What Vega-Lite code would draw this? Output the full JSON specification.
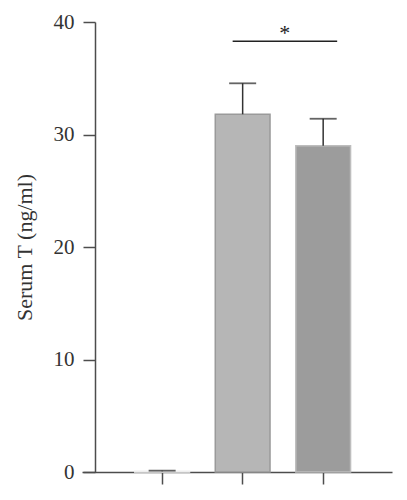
{
  "$schema": "https://vega.github.io/schema/vega-lite/v6.json",
  "autosize": {"type": "none"},
  "width": 310,
  "height": 450,
  "padding": {"left": 82, "top": 22, "right": 15, "bottom": 28},
  "background": "white",
  "config": {
    "view": {"stroke": null},
    "font": "Liberation Serif"
  },
  "data": {
    "values": [
      {"group": "G1", "mean": 0.06, "upper": 0.12},
      {"group": "G2", "mean": 31.8, "upper": 34.55},
      {"group": "G3", "mean": 29.0, "upper": 31.4}
    ]
  },
  "encoding": {
    "x": {
      "field": "group",
      "type": "nominal",
      "sort": null,
      "scale": {"paddingInner": 0.32, "paddingOuter": 0.585, "align": 0.56},
      "axis": {
        "title": null,
        "labels": false,
        "domainColor": "#4d4d4d",
        "domainWidth": 1.5,
        "tickColor": "#4d4d4d",
        "tickWidth": 1.5,
        "tickSize": 12
      }
    }
  },
  "layer": [
    {
      "mark": {"type": "bar", "strokeWidth": 1.5},
      "encoding": {
        "y": {
          "field": "mean",
          "type": "quantitative",
          "scale": {"domain": [0, 40], "nice": false},
          "axis": {
            "title": "Serum T (ng/ml)",
            "titleFont": "Liberation Serif",
            "titleFontSize": 22,
            "titleFontWeight": "normal",
            "titleColor": "#333333",
            "titlePadding": 17,
            "values": [0, 10, 20, 30, 40],
            "grid": false,
            "offset": -13,
            "domainColor": "#4d4d4d",
            "domainWidth": 1.5,
            "tickColor": "#4d4d4d",
            "tickWidth": 1.5,
            "tickSize": 12,
            "labelFont": "Liberation Serif",
            "labelFontSize": 21,
            "labelColor": "#333333",
            "labelPadding": 9
          }
        },
        "fill": {
          "field": "group",
          "type": "nominal",
          "scale": {"domain": ["G1", "G2", "G3"], "range": ["#f2f2f2", "#b6b6b6", "#9c9c9c"]},
          "legend": null
        },
        "stroke": {
          "field": "group",
          "type": "nominal",
          "scale": {"domain": ["G1", "G2", "G3"], "range": ["#eeeeee", "#9a9a9a", "#bdbdbd"]},
          "legend": null
        }
      }
    },
    {
      "mark": {"type": "rule", "color": "#333333", "strokeWidth": 1.5},
      "encoding": {
        "y": {"field": "mean", "type": "quantitative"},
        "y2": {"field": "upper"}
      }
    },
    {
      "mark": {"type": "tick", "color": "#222222", "thickness": 1.8, "size": 27},
      "encoding": {
        "y": {"field": "upper", "type": "quantitative"}
      }
    },
    {
      "data": {"values": [{"from": "G2", "to": "G3", "level": 38.3, "star": 39.6, "label": "*"}]},
      "layer": [
        {
          "mark": {"type": "rule", "color": "#222222", "strokeWidth": 1.5, "xOffset": -10, "x2Offset": 14},
          "encoding": {
            "x": {"field": "from", "type": "nominal"},
            "x2": {"field": "to"},
            "y": {"field": "level", "type": "quantitative"}
          }
        },
        {
          "mark": {"type": "text", "fontSize": 22, "color": "#222222", "dx": 42, "dy": 6},
          "encoding": {
            "x": {"field": "from", "type": "nominal"},
            "y": {"field": "star", "type": "quantitative"},
            "text": {"field": "label"}
          }
        }
      ]
    }
  ]
}
